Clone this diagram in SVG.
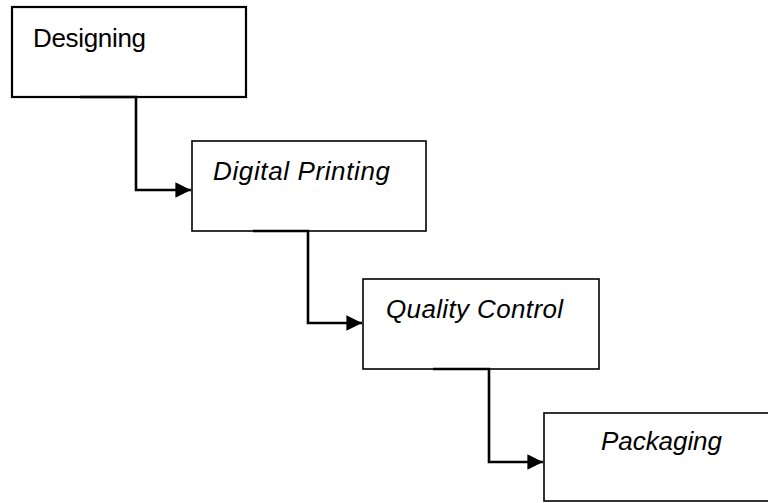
<svg xmlns="http://www.w3.org/2000/svg" width="768" height="503" viewBox="0 0 768 503">
<style>
.box{fill:#fff;stroke:#000;stroke-width:1.6}
.lbl{font-family:"Liberation Sans",Arial,sans-serif;font-size:26px;fill:#000}
.it{font-style:italic}
.con{fill:none;stroke:#000;stroke-width:2.6}
</style>
<defs>
<marker id="arr" viewBox="0 0 10 10" refX="10" refY="5" markerWidth="6" markerHeight="6.2" orient="auto" markerUnits="strokeWidth">
<path d="M0,0 L10,5 L0,10 z" fill="#000"/>
</marker>
</defs>
<g id="n1"><rect class="box" x="12" y="7" width="234" height="90" style="stroke-width:2.2"/><text class="lbl" x="33" y="47" textLength="113">Designing</text></g>
<g id="n2"><rect class="box" x="192" y="141" width="234" height="90"/><text class="lbl it" x="213" y="180" textLength="177">Digital Printing</text></g>
<g id="n3"><rect class="box" x="363" y="279" width="236" height="90"/><text class="lbl it" x="386" y="318" textLength="177">Quality Control</text></g>
<g id="n4"><rect class="box" x="544" y="413" width="230" height="88"/><text class="lbl it" x="601" y="450" textLength="121">Packaging</text></g>
<g id="connectors">
<path class="con" d="M80,97 H136 V190 H191" marker-end="url(#arr)"/>
<path class="con" d="M253,231 H308 V323 H362" marker-end="url(#arr)"/>
<path class="con" d="M433,369 H489 V462 H543" marker-end="url(#arr)"/>
</g>
</svg>
